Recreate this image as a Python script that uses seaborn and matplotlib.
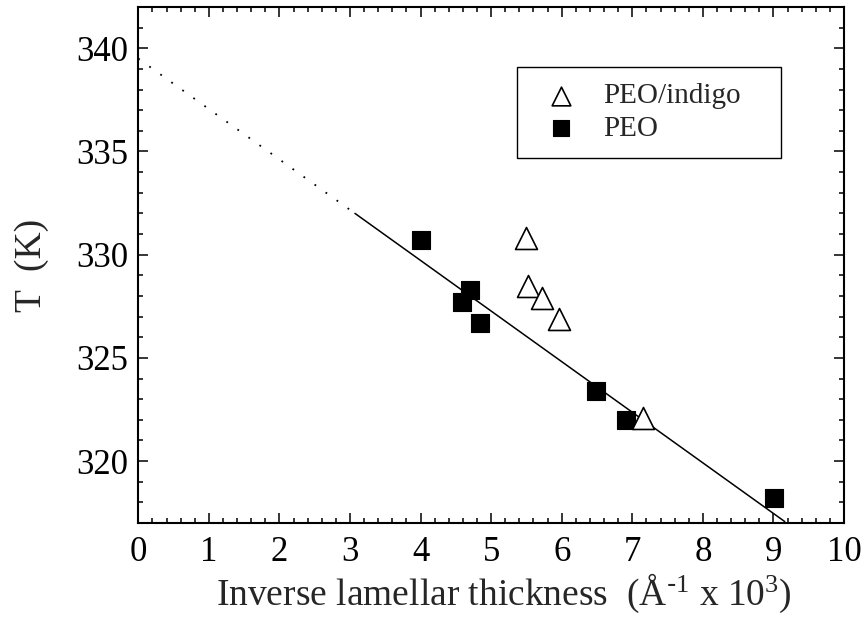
import numpy as np
import pandas as pd
import matplotlib.pyplot as plt
import seaborn as sns
from matplotlib.ticker import MultipleLocator

# values
peo_x = [4.00, 4.59, 4.70, 4.84, 6.49, 6.91, 9.01]
peo_y = [330.7, 327.7, 328.3, 326.7, 323.4, 322.0, 318.2]
indigo_x = [5.50, 5.52, 5.72, 5.96, 7.15]
indigo_y = [330.8, 328.5, 327.9, 326.9, 322.1]

# linear fit: solid over the data, dotted extrapolation to x = 0
fit_x = [3.07, 9.16]
fit_y = [332.0, 317.07]
extrap_x = [0.0, 3.07]
extrap_y = [339.5, 332.0]

peo = pd.DataFrame({'x': peo_x, 'y': peo_y})
indigo = pd.DataFrame({'x': indigo_x, 'y': indigo_y})

sns.set_style('ticks')
plt.rcParams['font.family'] = ['Liberation Serif', 'DejaVu Serif']
plt.rcParams['mathtext.default'] = 'regular'

fig = plt.figure(figsize=(8.67, 6.23), dpi=100)
ax = fig.add_axes([0.1595, 0.1605, 0.8140, 0.8283])

# fit lines
sns.lineplot(x=fit_x, y=fit_y, ax=ax, color='black', linewidth=1.1, zorder=2)
sns.lineplot(x=extrap_x, y=extrap_y, ax=ax, color='black', linewidth=1.3,
             linestyle=(0, (1, 6.5)), zorder=2)

# data points
sns.scatterplot(data=peo, x='x', y='y', ax=ax, marker='s', s=185, color='black',
                edgecolor='black', linewidth=0.8, label='PEO', zorder=3)
sns.scatterplot(data=indigo, x='x', y='y', ax=ax, marker='^', s=250, color='white',
                edgecolor='black', linewidth=1.2, label='PEO/indigo', zorder=4)

ax.set_xlim(0, 10)
ax.set_ylim(317, 342)
ax.xaxis.set_major_locator(MultipleLocator(1))
ax.xaxis.set_minor_locator(MultipleLocator(0.2))
ax.yaxis.set_major_locator(MultipleLocator(5))
ax.yaxis.set_minor_locator(MultipleLocator(1))

ax.tick_params(which='both', direction='in', top=True, right=True, width=1.1,
               labelsize=25, colors='black')
ax.tick_params(which='major', length=7)
ax.tick_params(which='minor', length=3.6)
ax.tick_params(axis='x', pad=9)
ax.tick_params(axis='y', pad=7)
for sp in ax.spines.values():
    sp.set_linewidth(1.5)
    sp.set_color('black')

ax.set_xlabel('Inverse lamellar thickness  (Å$^{\\text{-}1}$ x 10$^{3}$)', fontsize=27, labelpad=2)
ax.xaxis.label.set_x(0.518)
ax.set_ylabel('T  (K)', fontsize=27, labelpad=20)

handles, labels = ax.get_legend_handles_labels()
order = [labels.index('PEO/indigo'), labels.index('PEO')]
leg = ax.legend([handles[i] for i in order], [labels[i] for i in order],
                loc='upper left', bbox_to_anchor=(0.537, 0.707, 0.374, 0.177),
                mode='expand', borderaxespad=0, fontsize=21, markerscale=0.85,
                frameon=True, fancybox=False, shadow=False, edgecolor='black',
                borderpad=0.55, handlelength=1.9, handletextpad=0.5,
                labelspacing=0.22)
leg.get_frame().set_linewidth(1.0)
leg.get_frame().set_alpha(1)

fig.savefig('out.png', dpi=100)
